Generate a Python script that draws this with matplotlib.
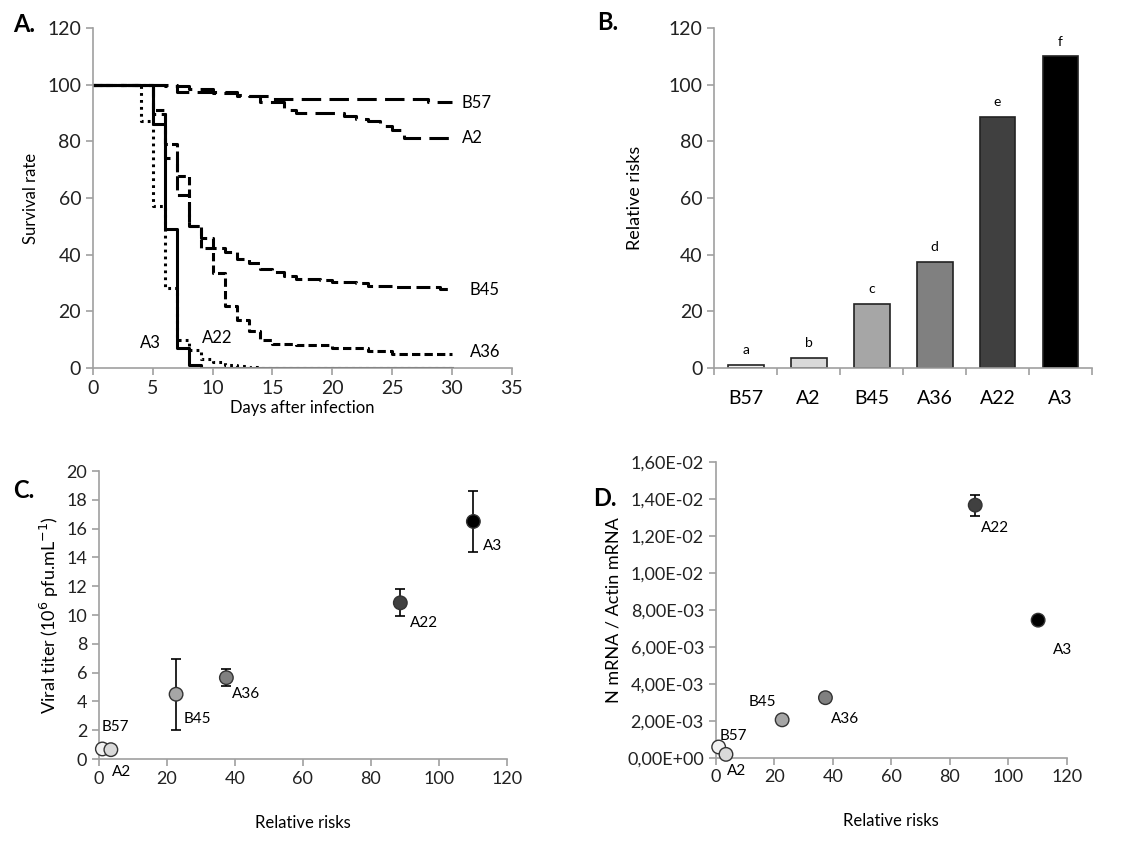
import numpy as np
import matplotlib
matplotlib.use("Agg")
import matplotlib.pyplot as plt
from matplotlib.ticker import FuncFormatter

plt.rcParams['font.family'] = ['Lato', 'DejaVu Sans']
plt.rcParams['lines.scale_dashes'] = False

# ---- panel A: survival curves (day of step, value after step) ----
b57_days = [0, 6, 8, 10, 12, 13, 15, 28, 30]
b57_surv = [100, 99.5, 98.5, 97.5, 96.5, 96, 95, 94, 94]
a2_days = [0, 7, 10, 12, 14, 16, 17, 21, 22, 23, 24, 25, 26, 30]
a2_surv = [100, 97.5, 97, 96, 94, 91, 90, 89, 88, 87, 85.5, 84, 81.3, 81.3]
b45_days = [0, 5, 6, 7, 8, 9, 10, 11, 12, 13, 14, 15, 16, 17, 19, 20, 22, 23, 25, 29, 30]
b45_surv = [100, 89.5, 74, 61, 50, 46, 42.5, 41, 38.5, 37, 35, 34, 32.5, 31.5, 31, 30.5, 30, 29, 28.5, 28, 28]
a36_days = [0, 5, 6, 7, 8, 9, 10, 11, 12, 13, 14, 15, 17, 20, 23, 25, 30]
a36_surv = [100, 91, 79, 67.6, 50, 42.5, 33.6, 22, 17, 13, 10, 8.6, 8, 7, 6, 5, 5]
a22_days = [0, 4, 5, 6, 7, 8, 9, 10, 11, 12, 13, 14, 30]
a22_surv = [100, 87, 57, 28.4, 9.8, 6.5, 3, 2, 1.2, 0.8, 0.4, 0, 0]
a3_days = [0, 5, 6, 7, 8, 9, 30]
a3_surv = [100, 86, 49, 7, 1, 0, 0]

# ---- panel B: relative risks ----
strains = ['B57', 'A2', 'B45', 'A36', 'A22', 'A3']
rel_risk = [1.0, 3.5, 22.7, 37.5, 88.7, 110.2]
letters = ['a', 'b', 'c', 'd', 'e', 'f']
grey_fill = ['#f2f2f2', '#d9d9d9', '#a6a6a6', '#808080', '#404040', '#000000']

# ---- panel C: viral titer ----
titer = [0.7, 0.65, 4.5, 5.65, 10.85, 16.5]
titer_err = [0, 0, 2.45, 0.6, 0.95, 2.1]

# ---- panel D: N mRNA / actin mRNA ----
nmrna = [0.00058, 0.00018, 0.00205, 0.00325, 0.01368, 0.00745]
nmrna_err = [0, 0, 0, 0, 0.00057, 0.0002]

axis_grey = '#a0a0a0'


def style_axes(ax, size=13):
    for s in ['top', 'right']:
        ax.spines[s].set_visible(False)
    for s in ['left', 'bottom']:
        ax.spines[s].set_color(axis_grey)
        ax.spines[s].set_linewidth(1.2)
    ax.tick_params(direction='out', length=5, width=1.2, color=axis_grey,
                   labelsize=size, labelcolor='#222222')


fig = plt.figure(figsize=(11.35, 8.43), dpi=100)

# ---------------- A ----------------
axA = fig.add_axes([0.0819, 0.5635, 0.369, 0.4033])
curves = [
    (b57_days, b57_surv, (0, (14, 6))),
    (a2_days, a2_surv, (0, (14, 6))),
    (b45_days, b45_surv, (0, (10, 4))),
    (a36_days, a36_surv, (0, (6, 3))),
    (a22_days, a22_surv, (0, (2, 3))),
    (a3_days, a3_surv, '-'),
]
for d, s, ls in curves:
    axA.step(d, s, where='post', color='black', lw=2.2, linestyle=ls)
axA.set_xlim(0, 35)
axA.set_ylim(0, 120)
axA.set_xticks(range(0, 36, 5))
axA.set_yticks(range(0, 121, 20))
style_axes(axA, 14)
axA.set_xlabel('Days after infection', fontsize=12, labelpad=2)
axA.set_ylabel('Survival rate', fontsize=12, labelpad=6)
for name, x, y in [('B57', 30.8, 93.5), ('A2', 30.8, 81), ('B45', 31.5, 27.5),
                   ('A36', 31.5, 5.5), ('A3', 3.9, 8.8), ('A22', 9.1, 10.5)]:
    axA.text(x, y, name, fontsize=12, va='center', ha='left')

# ---------------- B ----------------
axB = fig.add_axes([0.6293, 0.5638, 0.3328, 0.4026])
xpos = np.arange(len(strains))
axB.bar(xpos, rel_risk, width=0.57, color=grey_fill, edgecolor='#222222', linewidth=1.2)
for x, v, t in zip(xpos, rel_risk, letters):
    axB.text(x, v + 3, t, ha='center', va='bottom', fontsize=10)
axB.set_xlim(-0.5, len(strains) - 0.5)
axB.set_ylim(0, 120)
axB.set_yticks(range(0, 121, 20))
axB.set_xticks(np.arange(-0.5, len(strains), 1.0))
axB.set_xticklabels([])
axB.set_xticks(xpos, minor=True)
axB.set_xticklabels(strains, minor=True)
style_axes(axB, 14)
axB.tick_params(axis='x', which='minor', length=0, pad=16, labelsize=14)
axB.set_ylabel('Relative risks', fontsize=13, labelpad=18)


# ---------------- C & D scatter ----------------
def scatter_panel(ax, yvals, yerr):
    ax.errorbar(rel_risk, yvals, yerr=yerr, fmt='none', ecolor='black',
                elinewidth=1.2, capsize=3.5, capthick=1.2, zorder=2)
    ax.scatter(rel_risk, yvals, s=95, c=grey_fill, edgecolors='#333333',
               linewidths=1.0, zorder=3, clip_on=False)
    ax.set_xlim(0, 120)
    ax.set_xticks(range(0, 121, 20))
    ax.set_xlabel('Relative risks', fontsize=12, labelpad=20)


axC = fig.add_axes([0.0872, 0.0996, 0.3592, 0.3416])
scatter_panel(axC, titer, titer_err)
axC.set_ylim(0, 20)
axC.set_yticks(range(0, 21, 2))
style_axes(axC, 13)
axC.set_ylabel('Viral titer (10$^{6}$ pfu.mL$^{-1}$)', fontsize=13, labelpad=4)
for name, x, y in [('B57', 0.8, 2.2), ('A2', 3.7, -0.9), ('B45', 24.8, 2.8),
                   ('A36', 39, 4.55), ('A22', 91.5, 9.45), ('A3', 113, 14.8)]:
    axC.text(x, y, name, fontsize=11, va='center', ha='left', clip_on=False)

axD = fig.add_axes([0.6306, 0.1012, 0.3093, 0.3504])
scatter_panel(axD, nmrna, nmrna_err)
axD.set_ylim(0, 0.016)
axD.set_yticks(np.arange(0, 0.0161, 0.002))
axD.yaxis.set_major_formatter(FuncFormatter(lambda v, p: f"{v:.2E}".replace('.', ',')))
style_axes(axD, 13)
axD.set_ylabel('N mRNA / Actin mRNA', fontsize=13, labelpad=4)
for name, x, y, ha in [('B57', 1.5, 0.00117, 'left'), ('A2', 4, -0.0007, 'left'),
                       ('B45', 20.5, 0.00303, 'right'), ('A36', 39.3, 0.00208, 'left'),
                       ('A22', 90.6, 0.01243, 'left'), ('A3', 115.2, 0.00583, 'left')]:
    axD.text(x, y, name, fontsize=11, va='center', ha=ha, clip_on=False)

# panel letters
for lab, x, y in [('A.', 13, 24), ('B.', 597, 23), ('C.', 13, 491), ('D.', 593, 499)]:
    fig.text(x / 1135, 1 - y / 843, lab, fontsize=17, fontweight='bold', va='center', ha='left')

fig.savefig('out.png', dpi=100)
